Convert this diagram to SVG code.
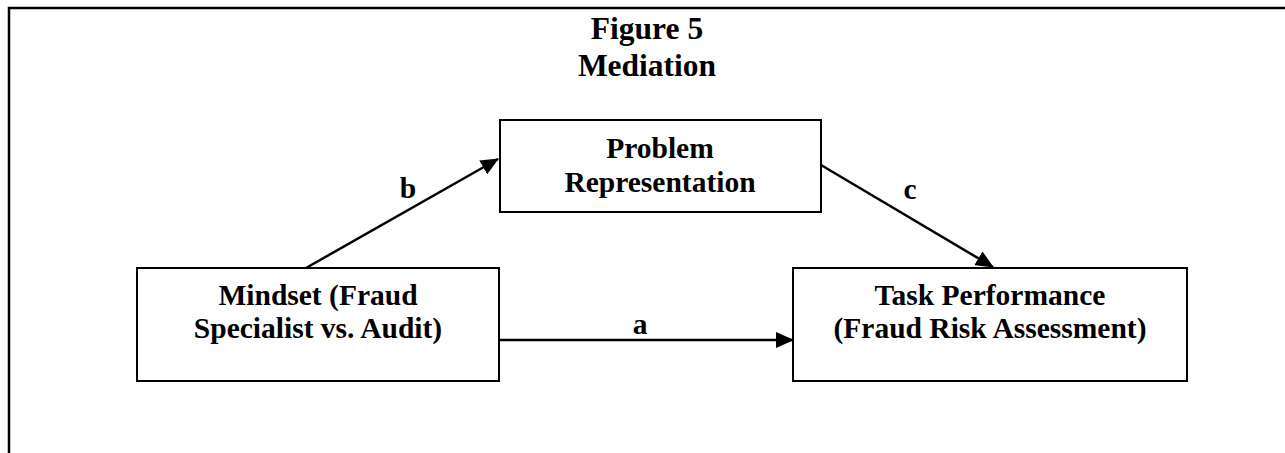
<svg xmlns="http://www.w3.org/2000/svg" width="1285" height="453" viewBox="0 0 1285 453">
<style>
.box{fill:#fff;stroke:#000;stroke-width:2}
.t{font-family:"Liberation Serif","Times New Roman",serif;font-weight:bold;font-size:29.5px;text-anchor:middle;fill:#000}
.h{font-size:31.5px}
.conn{stroke:#000;stroke-width:2.5;fill:none}
</style>
<defs>
<marker id="ah" markerUnits="userSpaceOnUse" markerWidth="18" markerHeight="16" viewBox="0 0 18 16" refX="17" refY="8" orient="auto">
<path d="M0,0 L18,8 L0,16 Z" fill="#000"/>
</marker>
</defs>
<g id="frame">
<path d="M9,453 L9,8 L1285,8" fill="none" stroke="#000" stroke-width="2.5"/>
</g>
<g id="title">
<text class="t h" x="647" y="39">Figure 5</text>
<text class="t h" x="647" y="76">Mediation</text>
</g>
<g id="connectors">
<line class="conn" x1="306" y1="268" x2="498" y2="159" marker-end="url(#ah)"/>
<line class="conn" x1="821" y1="165" x2="993" y2="267" marker-end="url(#ah)"/>
<line class="conn" x1="500" y1="340" x2="793" y2="340" marker-end="url(#ah)"/>
<text class="t" x="408" y="198">b</text>
<text class="t" x="910" y="199">c</text>
<text class="t" x="640" y="334">a</text>
</g>
<g id="node-problem">
<rect class="box" x="500" y="120" width="321" height="92"/>
<text class="t" x="660" y="158">Problem</text>
<text class="t" x="660" y="192">Representation</text>
</g>
<g id="node-mindset">
<rect class="box" x="137" y="268" width="362" height="113"/>
<text class="t" x="318" y="305">Mindset (Fraud</text>
<text class="t" x="318" y="338">Specialist vs. Audit)</text>
</g>
<g id="node-task">
<rect class="box" x="793" y="268" width="394" height="113"/>
<text class="t" x="990" y="305">Task Performance</text>
<text class="t" x="990" y="338">(Fraud Risk Assessment)</text>
</g>
</svg>
